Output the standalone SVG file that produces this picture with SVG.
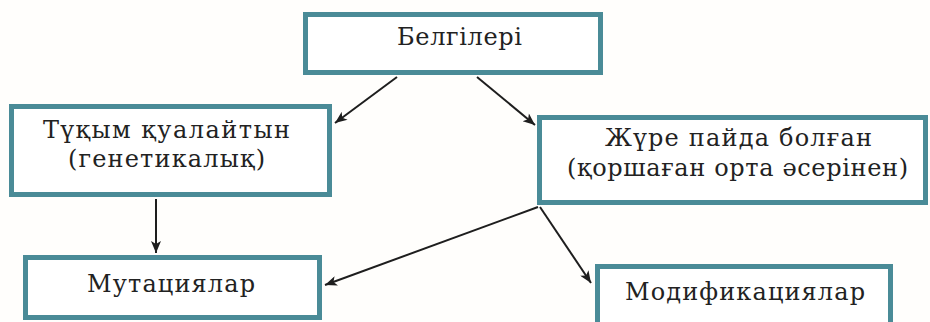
<svg xmlns="http://www.w3.org/2000/svg" width="930" height="322" viewBox="0 0 930 322">
<defs>
<style>
.box{fill:#ffffff;stroke:#4a8b97;stroke-width:5}
.t{font-family:"DejaVu Serif","Liberation Serif",serif;font-size:24px;fill:#222222;text-anchor:middle}
.c{stroke:#1e1e1e;stroke-width:2;fill:none}
</style>
<marker id="ah" viewBox="0 0 12 10" refX="12" refY="5" markerWidth="13" markerHeight="10" markerUnits="userSpaceOnUse" orient="auto">
<path d="M0,0 L12,5 L0,10 L3,5 Z" fill="#1e1e1e"/>
</marker>
</defs>
<rect width="930" height="322" fill="#fffefc"/>
<g id="connectors">
<line class="c" x1="397" y1="77" x2="335" y2="123" marker-end="url(#ah)"/>
<line class="c" x1="477" y1="77" x2="535" y2="125" marker-end="url(#ah)"/>
<line class="c" x1="156" y1="199" x2="156" y2="253" marker-end="url(#ah)"/>
<line class="c" x1="538" y1="207" x2="325" y2="285" marker-end="url(#ah)"/>
<line class="c" x1="540" y1="207" x2="591" y2="283" marker-end="url(#ah)"/>
</g>
<g id="belgileri">
<rect class="box" x="305.5" y="14.5" width="295" height="58"/>
<text class="t" x="459.5" y="45" textLength="125" lengthAdjust="spacing">Белгілері</text>
</g>
<g id="tukym">
<rect class="box" x="11.5" y="106.5" width="318" height="88"/>
<text class="t" x="166.5" y="138" textLength="247" lengthAdjust="spacing">Түқым қуалайтын</text>
<text class="t" x="166.5" y="167" textLength="197" lengthAdjust="spacing">(генетикалық)</text>
</g>
<g id="zhure">
<rect class="box" x="539.5" y="117.5" width="386" height="85"/>
<text class="t" x="738.5" y="146" textLength="267" lengthAdjust="spacing">Жүре пайда болған</text>
<text class="t" x="737.5" y="176" textLength="341" lengthAdjust="spacing">(қоршаған орта әсерінен)</text>
</g>
<g id="mutatsiyalar">
<rect class="box" x="25.5" y="257.5" width="294" height="60"/>
<text class="t" x="171" y="292" textLength="168" lengthAdjust="spacing">Мутациялар</text>
</g>
<g id="modifikatsiyalar">
<rect class="box" x="597.5" y="266.5" width="293" height="62"/>
<text class="t" x="745" y="300" textLength="240" lengthAdjust="spacing">Модификациялар</text>
</g>
</svg>
